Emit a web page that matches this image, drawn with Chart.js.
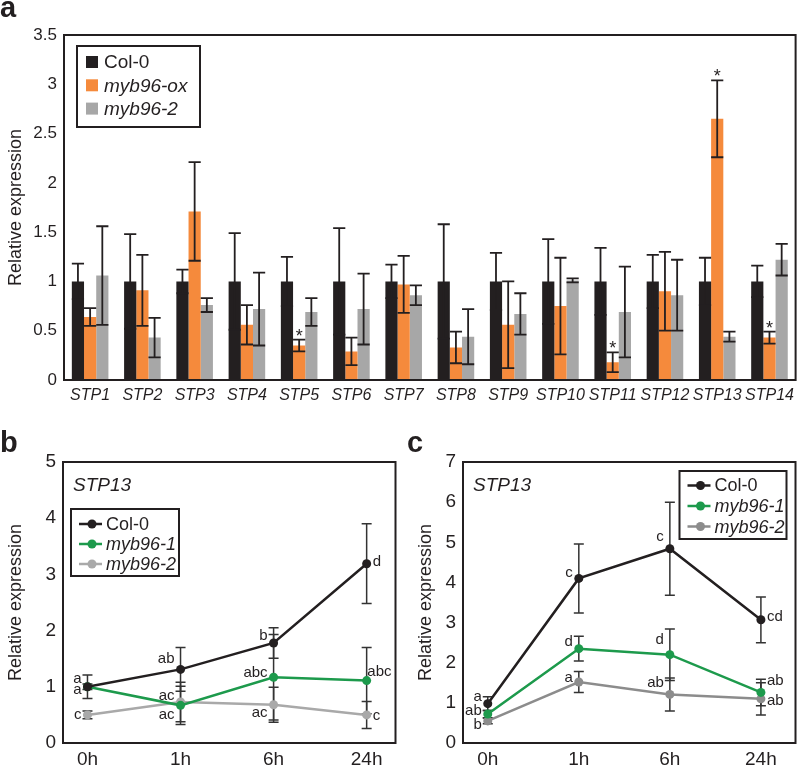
<!DOCTYPE html>
<html><head><meta charset="utf-8">
<script src="https://cdn.jsdelivr.net/npm/chart.js@4.4.1/dist/chart.umd.min.js"></script>
<style>
html,body{margin:0;padding:0;background:#fff;}
#wrap{position:relative;width:800px;height:767px;overflow:hidden;background:#fff;}
.box{position:absolute;}
.panel{position:absolute;font-family:"Liberation Sans",Arial,sans-serif;font-weight:bold;font-size:29px;line-height:29px;color:#231f20;}
</style></head><body>
<div id="wrap">
<div class="box" style="left:0;top:0;width:800px;height:405px"><canvas id="ca" width="800" height="405"></canvas></div>
<div class="box" style="left:0;top:405px;width:400px;height:362px"><canvas id="cb" width="400" height="362"></canvas></div>
<div class="box" style="left:400px;top:405px;width:400px;height:362px"><canvas id="cc" width="400" height="362"></canvas></div>
<div class="panel" style="left:0;top:-7px">a</div>
<div class="panel" style="left:0;top:428px">b</div>
<div class="panel" style="left:407px;top:428px">c</div>
</div>
<script>
// ---------- data: panel a ----------
const genes = ['STP1','STP2','STP3','STP4','STP5','STP6','STP7','STP8','STP9','STP10','STP11','STP12','STP13','STP14'];
const col0Vals = [1,1,1,1,1,1,1,1,1,1,1,1,1,1];
const col0Err  = [0.18,0.48,0.12,0.49,0.25,0.54,0.17,0.58,0.29,0.43,0.34,0.27,0.24,0.16];
const oxVals   = [0.64,0.91,1.71,0.56,0.35,0.29,0.97,0.33,0.56,0.75,0.18,0.90,2.65,0.43];
const oxErr    = [0.09,0.36,0.50,0.20,0.06,0.14,0.29,0.16,0.44,0.49,0.10,0.40,0.39,0.06];
const ko2Vals  = [1.06,0.43,0.76,0.72,0.69,0.72,0.86,0.44,0.67,1.01,0.69,0.86,0.44,1.22];
const ko2Err   = [0.50,0.20,0.07,0.37,0.14,0.36,0.10,0.28,0.21,0.02,0.46,0.36,0.05,0.16];
const oxStars  = [0,0,0,0,1,0,0,0,0,0,1,0,1,1];
const yTicksA  = [0,0.5,1,1.5,2,2.5,3,3.5];

// ---------- data: panel b ----------
const timePoints = ['0h','1h','6h','24h'];
const bCol0 = [1.00,1.31,1.78,3.19];
const bCol0Err = [0.21,0.39,0.27,0.71];
const bMyb1 = [1.00,0.67,1.17,1.11];
const bMyb1Err = [0.05,0.34,0.76,0.59];
const bMyb2 = [0.50,0.73,0.68,0.50];
const bMyb2Err = [0.07,0.35,0.31,0.24];
const bLetters = [
  [0,1.14,'a','L'],[0,0.94,'a','L'],[0,0.50,'c','L'],
  [1,1.49,'ab','L'],[1,0.84,'ac','L'],[1,0.50,'ac','L'],
  [2,1.91,'b','L'],[2,1.25,'abc','L'],[2,0.53,'ac','L'],
  [3,3.23,'d','R'],[3,1.26,'abc','R'],[3,0.49,'c','R']
];

// ---------- data: panel c ----------
const cCol0 = [0.98,4.10,4.84,3.07];
const cCol0Err = [0.17,0.86,1.16,0.57];
const cMyb1 = [0.72,2.35,2.20,1.26];
const cMyb1Err = [0.09,0.31,0.64,0.33];
const cMyb2 = [0.55,1.52,1.21,1.10];
const cMyb2Err = [0.07,0.26,0.41,0.40];
const cLetters = [
  [0,1.16,'a','L'],[0,0.79,'ab','L'],[0,0.46,'b','L'],
  [1,4.23,'c','L'],[1,2.53,'d','L'],[1,1.63,'a','L'],
  [2,5.13,'c','L'],[2,2.57,'d','L'],[2,1.49,'ab','L'],
  [3,3.15,'cd','R'],[3,1.55,'ab','R'],[3,1.04,'ab','R']
];
const geneTitle = 'STP13';

// ---------- style ----------
const FONT = '"Liberation Sans",Arial,sans-serif';
const INK = '#231f20';
const ORANGE = '#f58a3c';
const GREY_BAR = '#a7a7a7';
const GREEN = '#1d9a4c';

const framePlugin = {
  id: 'frame',
  afterDraw(chart) {
    const {ctx, chartArea: a} = chart;
    ctx.save(); ctx.strokeStyle = INK; ctx.lineWidth = 2;
    ctx.strokeRect(a.left, a.top, a.right - a.left, a.bottom - a.top);
    ctx.restore();
  }
};

function drawErrors(chart, o) {
  const ctx = chart.ctx, ys = chart.scales.y;
  ctx.save(); ctx.strokeStyle = o.color || INK; ctx.lineWidth = o.width || 1.5;
  chart.data.datasets.forEach((ds, i) => {
    if (!ds.errors) return;
    const meta = chart.getDatasetMeta(i);
    meta.data.forEach((el, j) => {
      const raw = ds.data[j]; const v = typeof raw === 'object' ? raw.y : raw;
      const e = ds.errors[j];
      const x = el.x, yt = ys.getPixelForValue(v + e), yb = ys.getPixelForValue(Math.max(0, v - e));
      const cw = o.cap === 'bar' ? el.width / 2 : o.cap;
      ctx.beginPath();
      ctx.moveTo(x, yt); ctx.lineTo(x, yb);
      ctx.moveTo(x - cw, yt); ctx.lineTo(x + cw, yt);
      ctx.moveTo(x - cw, yb); ctx.lineTo(x + cw, yb);
      ctx.stroke();
      if (ds.stars && ds.stars[j]) {
        ctx.fillStyle = INK; ctx.font = '18px ' + FONT; ctx.textAlign = 'center'; ctx.textBaseline = 'alphabetic';
        ctx.fillText('*', x, yt + 2);
      }
    });
  });
  ctx.restore();
}
const errorBarPlugin = {
  id: 'errorBars',
  beforeDatasetsDraw(chart, args, o) { if (o.phase === 'before') drawErrors(chart, o); },
  afterDatasetsDraw(chart, args, o) { if (o.phase === 'after') drawErrors(chart, o); }
};

const boxLegendPlugin = {
  id: 'boxLegend',
  afterDraw(chart, args, o) {
    const {ctx, chartArea: a} = chart;
    const x0 = o.anchor === 'right' ? a.right - o.dx - o.w : a.left + o.dx;
    const y0 = a.top + o.dy;
    ctx.save();
    ctx.fillStyle = '#fff'; ctx.fillRect(x0, y0, o.w, o.h);
    ctx.strokeStyle = INK; ctx.lineWidth = 2; ctx.strokeRect(x0, y0, o.w, o.h);
    chart.data.datasets.forEach((ds, i) => {
      const cy = y0 + o.first + i * o.step;
      const col = ds.borderColor && o.symbol === 'line' ? ds.borderColor : ds.backgroundColor;
      if (o.symbol === 'square') {
        ctx.fillStyle = col; ctx.fillRect(x0 + o.symX, cy - 6, 12, 12);
      } else {
        ctx.strokeStyle = col; ctx.lineWidth = 2.5;
        ctx.beginPath(); ctx.moveTo(x0 + o.symX, cy); ctx.lineTo(x0 + o.symX + 23, cy); ctx.stroke();
        ctx.fillStyle = ds.pointBackgroundColor || col;
        ctx.beginPath(); ctx.arc(x0 + o.symX + 13, cy, 4.5, 0, Math.PI * 2); ctx.fill();
      }
      ctx.fillStyle = INK; ctx.textAlign = 'left'; ctx.textBaseline = 'middle';
      ctx.font = (ds.italicLabel ? 'italic ' : '') + o.size + 'px ' + FONT;
      ctx.fillText(ds.label, x0 + o.textX, cy + 1);
    });
    ctx.restore();
  }
};

const lettersPlugin = {
  id: 'letters',
  afterDatasetsDraw(chart, args, o) {
    const {ctx, chartArea: a} = chart; const xs = chart.scales.x, ys = chart.scales.y;
    ctx.save(); ctx.fillStyle = INK;
    ctx.font = o.size + 'px ' + FONT; ctx.textBaseline = 'middle';
    o.items.forEach(([ti, v, txt, side]) => {
      const px = xs.getPixelForValue(ti), py = ys.getPixelForValue(v);
      const w = ctx.measureText(txt).width;
      let tx;
      if (side === 'L') { tx = px - o.gap - w; }
      else { tx = Math.min(px + o.gap, a.right - 4 - w); }
      ctx.textAlign = 'left';
      ctx.fillText(txt, tx, py);
    });
    ctx.font = 'italic ' + o.titleSize + 'px ' + FONT; ctx.textAlign = 'left'; ctx.textBaseline = 'alphabetic';
    ctx.fillText(o.title, a.left + 10, a.top + 29);
    ctx.restore();
  }
};

Chart.defaults.color = INK;
Chart.defaults.font.family = FONT;

// ---------- panel a ----------
new Chart(document.getElementById('ca'), {
  type: 'bar',
  data: {
    labels: genes,
    datasets: [
      {label: 'Col-0', data: col0Vals, errors: col0Err, backgroundColor: INK},
      {label: 'myb96-ox', data: oxVals, errors: oxErr, stars: oxStars, backgroundColor: ORANGE, italicLabel: true},
      {label: 'myb96-2', data: ko2Vals, errors: ko2Err, backgroundColor: GREY_BAR, italicLabel: true}
    ]
  },
  options: {
    responsive: false, animation: false, devicePixelRatio: 1,
    layout: {padding: {left: 5, right: 2, top: 35, bottom: 0}},
    datasets: {bar: {categoryPercentage: 0.7, barPercentage: 1.0, borderWidth: 0}},
    plugins: {
      legend: {display: false}, tooltip: {enabled: false},
      errorBars: {phase: 'after', cap: 'bar', width: 1.8},
      boxLegend: {symbol: 'square', anchor: 'left', dx: 13, dy: 11, w: 123, h: 81, first: 16, step: 23.3, symX: 9, textX: 27, size: 19}
    },
    scales: {
      x: {grid: {display: false, drawTicks: false}, border: {display: false},
          ticks: {font: {size: 16, style: 'italic'}, padding: 6, maxRotation: 0, autoSkip: false},
          afterFit: s => { s.height = 25; }},
      y: {min: 0, max: 3.5, grid: {display: false, drawTicks: false}, border: {display: false},
          afterBuildTicks: s => { s.ticks = yTicksA.map(v => ({value: v})); },
          ticks: {font: {size: 17}, padding: 7, callback: v => String(v)},
          title: {display: true, text: 'Relative expression', font: {size: 18}, padding: 0},
          afterFit: s => { s.width = 59; }}
    }
  },
  plugins: [framePlugin, errorBarPlugin, boxLegendPlugin]
});

// ---------- panels b & c ----------
function lineChart(id, series, legendOpts, letters, yMax, xMin, xMax, padLeft, yWidth, greyCol) {
  const names = ['Col-0', 'myb96-1', 'myb96-2'];
  const cols = [INK, GREEN, greyCol];
  return new Chart(document.getElementById(id), {
    type: 'line',
    data: {
      datasets: series.map((s, k) => ({
        label: names[k], italicLabel: k > 0,
        data: s[0].map((v, i) => ({x: i, y: v})), errors: s[1],
        borderColor: cols[k], backgroundColor: cols[k], pointBackgroundColor: cols[k],
        borderWidth: 2.5, pointRadius: 4.5, pointBorderWidth: 0, tension: 0
      }))
    },
    options: {
      responsive: false, animation: false, devicePixelRatio: 1,
      layout: {padding: {left: padLeft, right: 1, top: 57, bottom: 0}},
      plugins: {
        legend: {display: false}, tooltip: {enabled: false},
        errorBars: {phase: 'before', cap: 5, width: 1.5, color: '#333'},
        boxLegend: legendOpts,
        letters: {items: letters, size: 15, gap: 6, title: geneTitle, titleSize: 19}
      },
      scales: {
        x: {type: 'linear', min: xMin, max: xMax, grid: {display: false, drawTicks: false}, border: {display: false},
            afterBuildTicks: s => { s.ticks = timePoints.map((t, i) => ({value: i})); },
            ticks: {font: {size: 19}, padding: 5, maxRotation: 0, autoSkip: false, callback: v => timePoints[v]},
            afterFit: s => { s.height = 24; }},
        y: {min: 0, max: yMax, grid: {display: false, drawTicks: false}, border: {display: false},
            ticks: {stepSize: 1, font: {size: 19}, padding: 7},
            title: {display: true, text: 'Relative expression', font: {size: 18}, padding: 0},
            afterFit: s => { s.width = yWidth; }}
      }
    },
    plugins: [framePlugin, errorBarPlugin, lettersPlugin, boxLegendPlugin]
  });
}

lineChart('cb', [[bCol0, bCol0Err], [bMyb1, bMyb1Err], [bMyb2, bMyb2Err]],
  {symbol: 'line', anchor: 'left', dx: 8, dy: 47, w: 108, h: 67, first: 15, step: 20, symX: 8, textX: 35, size: 18},
  bLetters, 5, -0.263, 3.31, 5, 58, '#a9a9a9');

lineChart('cc', [[cCol0, cCol0Err], [cMyb1, cMyb1Err], [cMyb2, cMyb2Err]],
  {symbol: 'line', anchor: 'right', dx: 9, dy: 9, w: 107, h: 68, first: 14.5, step: 20.5, symX: 8, textX: 35, size: 18},
  cLetters, 7, -0.272, 3.38, 15, 48, '#8c8c8c');
</script>
</body></html>
